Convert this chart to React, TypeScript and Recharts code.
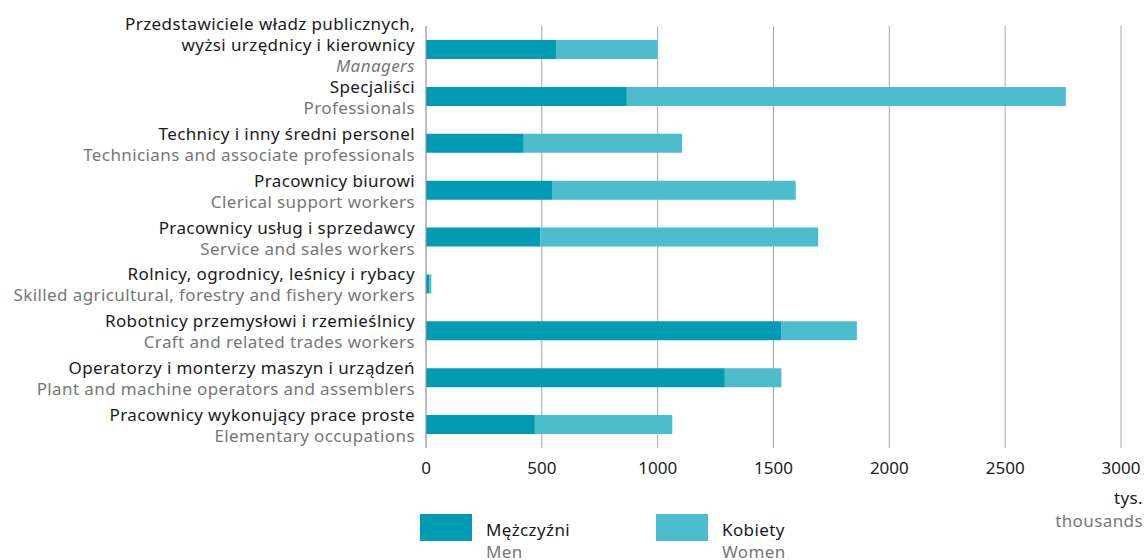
import React from 'react';
import { BarChart, Bar, XAxis, YAxis, CartesianGrid, Label } from 'recharts';

// Occupation groups (Polish / English)
const labelsPl = [
  ['Przedstawiciele władz publicznych,', 'wyżsi urzędnicy i kierownicy'],
  ['Specjaliści'],
  ['Technicy i inny średni personel'],
  ['Pracownicy biurowi'],
  ['Pracownicy usług i sprzedawcy'],
  ['Rolnicy, ogrodnicy, leśnicy i rybacy'],
  ['Robotnicy przemysłowi i rzemieślnicy'],
  ['Operatorzy i monterzy maszyn i urządzeń'],
  ['Pracownicy wykonujący prace proste'],
];
const labelsEn = [
  'Managers',
  'Professionals',
  'Technicians and associate professionals',
  'Clerical support workers',
  'Service and sales workers',
  'Skilled agricultural, forestry and fishery workers',
  'Craft and related trades workers',
  'Plant and machine operators and assemblers',
  'Elementary occupations',
];

// thousands
const men = [561, 867, 422, 544, 493, 15, 1535, 1290, 470];
const women = [439, 1895, 683, 1052, 1200, 8, 325, 244, 593];

const xTicks = [0, 500, 1000, 1500, 2000, 2500, 3000];

const MEN_COLOR = '#019bb3';
const WOMEN_COLOR = '#4dbdcd';
const FONT = '"Noto Sans", sans-serif';

const data = labelsEn.map((en, i) => ({ key: en, men: men[i], women: women[i] }));

const YTick = (props: any) => {
  const { x, y, index } = props;
  const pl = labelsPl[index];
  const italic = pl.length > 1;
  const lines = [...pl.map((t) => ({ t, fill: '#1a1a1a' })), { t: labelsEn[index], fill: '#777' }];
  const start = pl.length > 1 ? -26 : -10;
  return (
    <g>
      {lines.map((l, j) => (
        <text
          key={j}
          x={x}
          y={y + start + j * 21}
          textAnchor="end"
          dominantBaseline="central"
          fill={l.fill}
          fontSize={17}
          letterSpacing={0.4}
          fontFamily={FONT}
          fontStyle={italic && j === lines.length - 1 ? 'italic' : 'normal'}
        >
          {l.t}
        </text>
      ))}
    </g>
  );
};

const UnitLabel = (props: any) => {
  const { viewBox } = props;
  const right = viewBox.x + viewBox.width + 22;
  return (
    <g fontFamily={FONT} fontSize={17} letterSpacing={0.4} textAnchor="end">
      <text x={right} y={viewBox.y + 49} dominantBaseline="central" fill="#1a1a1a">tys.</text>
      <text x={right} y={viewBox.y + 72} dominantBaseline="central" fill="#777">thousands</text>
    </g>
  );
};

const legendItems = [
  { pl: 'Mężczyźni', en: 'Men', color: MEN_COLOR },
  { pl: 'Kobiety', en: 'Women', color: WOMEN_COLOR },
];

export default function App() {
  return (
    <div style={{ position: 'absolute', left: 0, top: 0, width: 1148, height: 560, background: '#fff', overflow: 'hidden' }}>
      <BarChart
        width={1148}
        height={560}
        data={data}
        layout="vertical"
        margin={{ top: 26, right: 27, bottom: 0, left: 0 }}
        barCategoryGap={0}
      >
        <CartesianGrid horizontal={false} stroke="#a6a6a6" />
        <XAxis
          type="number"
          domain={[0, 3000]}
          ticks={xTicks}
          axisLine={false}
          tickLine={false}
          tickSize={8}
          tickMargin={6}
          height={112}
          tick={{ fill: '#222', fontSize: 17, fontFamily: FONT }}
        >
          <Label content={<UnitLabel />} />
        </XAxis>
        <YAxis
          type="category"
          dataKey="key"
          width={426}
          axisLine={{ stroke: '#a6a6a6' }}
          tickLine={false}
          tickSize={0}
          tickMargin={11}
          tick={<YTick />}
          interval={0}
        />
        <Bar dataKey="men" stackId="a" fill={MEN_COLOR} barSize={19} isAnimationActive={false} />
        <Bar dataKey="women" stackId="a" fill={WOMEN_COLOR} barSize={19} isAnimationActive={false} />
      </BarChart>
      <div style={{ position: 'absolute', top: 514, left: 420, display: 'flex', fontFamily: FONT, fontSize: 17, letterSpacing: 0.4 }}>
        {legendItems.map((it) => (
          <div key={it.pl} style={{ display: 'flex', width: 236 }}>
            <div style={{ width: 52, height: 27, background: it.color, marginRight: 14 }} />
            <div style={{ paddingTop: 5, lineHeight: '22px' }}>
              <div style={{ color: '#1a1a1a' }}>{it.pl}</div>
              <div style={{ color: '#777' }}>{it.en}</div>
            </div>
          </div>
        ))}
      </div>
    </div>
  );
}
